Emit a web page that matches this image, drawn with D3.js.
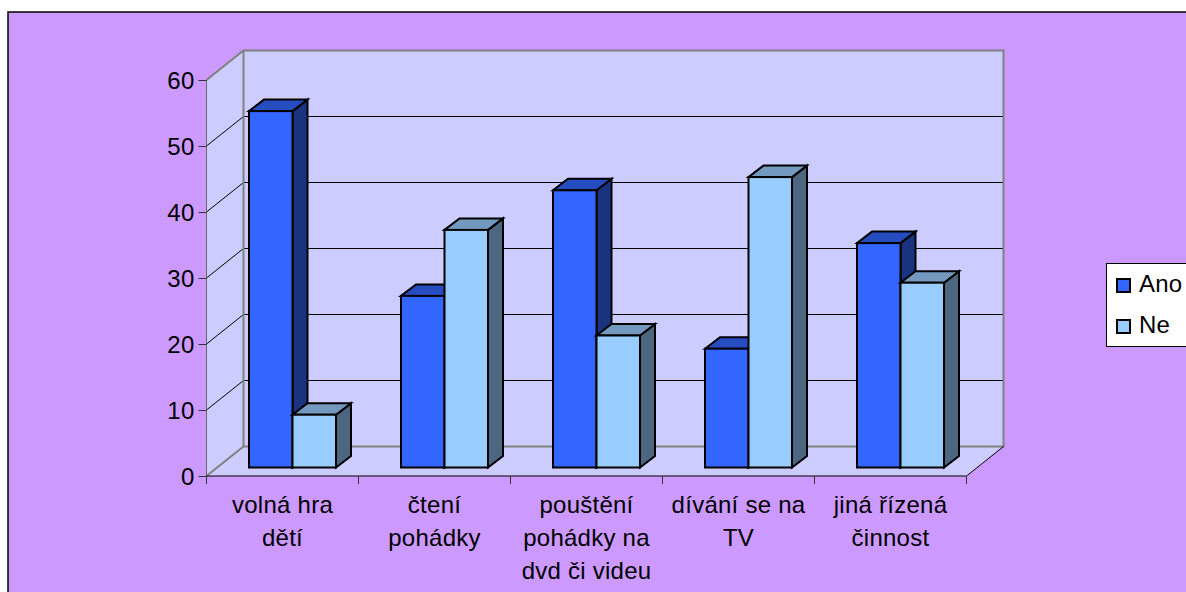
<!DOCTYPE html>
<html><head><meta charset="utf-8">
<script src="https://cdnjs.cloudflare.com/ajax/libs/d3/7.8.5/d3.min.js"></script>
<style>html,body{margin:0;padding:0;background:#fff}svg{display:block}text{font-family:"Liberation Sans",Arial,sans-serif;fill:#000;letter-spacing:.25px}</style>
</head><body><svg id="c" width="1186" height="592"></svg>
<script>
const categories=[["volná hra","dětí"],["čtení","pohádky"],["pouštění","pohádky na","dvd či videu"],["dívání se na","TV"],["jiná řízená","činnost"]];
const seriesNames=["Ano","Ne"];
const ano=[54,26,42,18,34];
const ne=[8,36,20,44,28];
const ticks=[0,10,20,30,40,50,60];
const colors={Ano:{f:"#3366FF",t:"#264DBF",s:"#1A3380"},Ne:{f:"#99CCFF",t:"#7399BF",s:"#4D6680"}};

const svg=d3.select("#c");
svg.append("rect").attr("x",8).attr("y",12).attr("width",1190).attr("height",600).attr("fill","#CC99FF").attr("stroke","#000").attr("stroke-width",1.5);

const x=d3.scaleBand().domain(d3.range(5)).range([206.5,966.5]);
const y=d3.scaleLinear().domain([0,60]).range([476,80]);
const D={x:37,y:-29.5};          // wall depth
const B={x:15,y:-11.5,ox:10,oy:-8.5}; // bar depth and offset
const pts=a=>a.map(p=>p.join(",")).join(" ");
const x0=x.range()[0],x1=x.range()[1];

// walls
svg.append("polygon").attr("points",pts([[x0,y(60)],[x0+D.x,y(60)+D.y],[x1+D.x,y(60)+D.y],[x1+D.x,y(0)+D.y],[x0+D.x,y(0)+D.y],[x0,y(0)]])).attr("fill","#CCCCFF");
svg.append("polygon").attr("points",pts([[x0,y(0)],[x0+D.x,y(0)+D.y],[x1+D.x,y(0)+D.y],[x1,y(0)]])).attr("fill","#CCCCFF");
// gridlines
ticks.slice(1,-1).forEach(t=>{
  svg.append("polyline").attr("fill","none").attr("stroke","#000").attr("stroke-width",1)
    .attr("points",pts([[x0,y(t)],[x0+D.x,y(t)+D.y],[x1+D.x,y(t)+D.y]]));
});
// wall outline
svg.append("polyline").attr("fill","none").attr("stroke","#808080").attr("stroke-width",2)
  .attr("points",pts([[x0,y(60)],[x0+D.x,y(60)+D.y],[x1+D.x,y(60)+D.y],[x1+D.x,y(0)+D.y],[x0+D.x,y(0)+D.y],[x0,y(0)]]));
svg.append("line").attr("x1",x0+D.x).attr("x2",x0+D.x).attr("y1",y(60)+D.y).attr("y2",y(0)+D.y).attr("stroke","#808080").attr("stroke-width",2);
svg.append("line").attr("x1",x1+D.x).attr("x2",x1).attr("y1",y(0)+D.y).attr("y2",y(0)).attr("stroke","#000").attr("stroke-width",1);

// bars
const barW=43.5;
function bar(i,j,v,c){
  const mid=x(i)+x.bandwidth()/2+B.ox;
  const l=mid-barW+(j*barW), r=l+barW, top=y(v)+B.oy, bot=y(0)+B.oy;
  const g=svg.append("g").attr("stroke","#000").attr("stroke-width",2).attr("stroke-linejoin","miter");
  g.append("polygon").attr("points",pts([[r,top],[r+B.x,top+B.y],[r+B.x,bot+B.y],[r,bot]])).attr("fill",c.s);
  g.append("polygon").attr("points",pts([[l,top],[l+B.x,top+B.y],[r+B.x,top+B.y],[r,top]])).attr("fill",c.t);
  g.append("rect").attr("x",l).attr("y",top).attr("width",barW).attr("height",bot-top).attr("fill",c.f);
}
d3.range(5).forEach(i=>{bar(i,0,ano[i],colors.Ano);bar(i,1,ne[i],colors.Ne);});

// axes
const axY=svg.append("g").attr("transform",`translate(${x0},0)`).call(d3.axisLeft(y).tickValues(ticks).tickSize(8).tickPadding(4));
const axX=svg.append("g").attr("transform",`translate(0,${y(0)})`).call(d3.axisBottom(x).tickValues([]).tickSize(0));
axY.selectAll("path").attr("d",`M0,${y(60)}V${y(0)}`).attr("stroke","#666");
axY.selectAll("line").attr("stroke","#333");
axY.selectAll("text").attr("font-size",24).attr("dy","0.34em").style("font-family",'"Liberation Sans",Arial,sans-serif');
axX.selectAll("path").attr("d",`M${x0},0H${x1}`).attr("stroke","#000");
d3.range(6).forEach(i=>svg.append("line").attr("x1",x0+i*x.bandwidth()).attr("x2",x0+i*x.bandwidth()).attr("y1",y(0)).attr("y2",y(0)+8).attr("stroke","#333"));
// category labels
categories.forEach((lines,i)=>{
  lines.forEach((s,k)=>{
    svg.append("text").attr("x",x(i)+x.bandwidth()/2).attr("y",513+k*33).attr("text-anchor","middle").attr("font-size",24).text(s);
  });
});
// legend
svg.append("rect").attr("x",1106.5).attr("y",263.5).attr("width",90).attr("height",83).attr("fill","#fff").attr("stroke","#000");
seriesNames.forEach((n,i)=>{
  const ly=[292,333][i];
  svg.append("rect").attr("x",1117).attr("y",ly-13).attr("width",13).attr("height",13).attr("fill",colors[n].f).attr("stroke","#000").attr("stroke-width",2);
  svg.append("text").attr("x",1139).attr("y",ly).attr("font-size",24).text(n);
});
</script></body></html>
